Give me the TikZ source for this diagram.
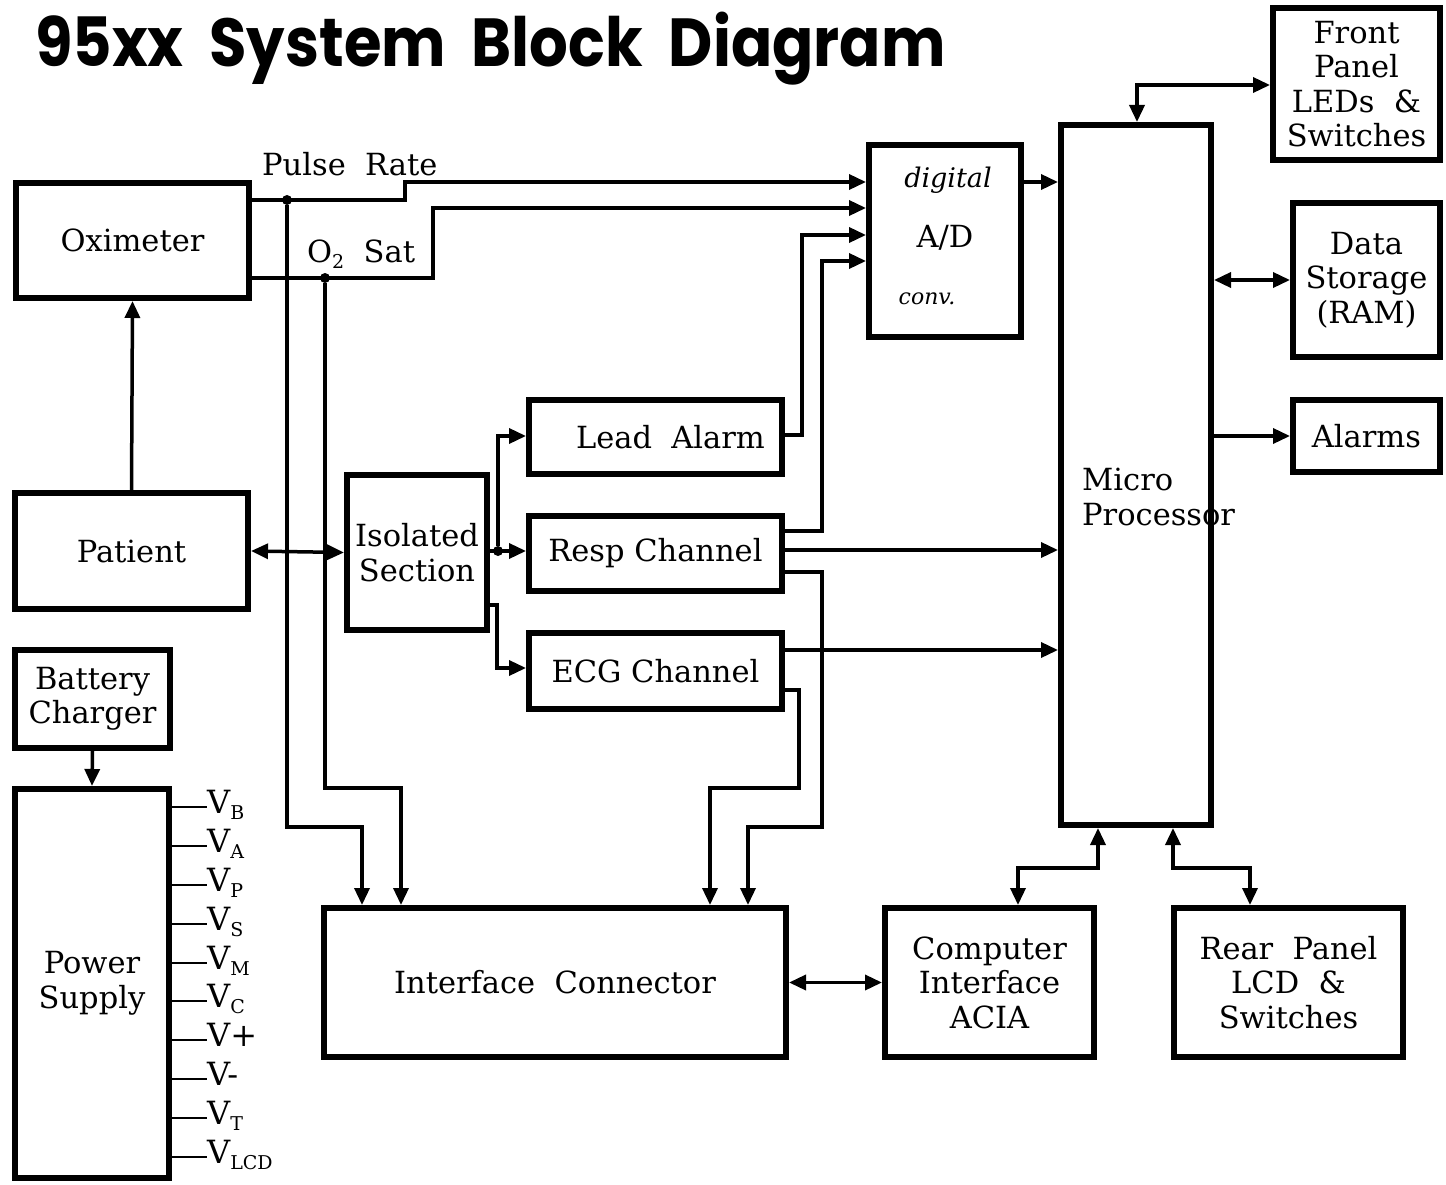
\documentclass[tikz,border=0pt]{standalone}
\usepackage{fontspec}
\setmainfont{DejaVu Serif}
\newfontfamily\titlefont{Poppins}
\usetikzlibrary{arrows.meta}
\newcommand\txtfont{\fontsize{30.5}{34.5}\selectfont}
\newcommand\vsub[1]{\raisebox{-6pt}{\fontsize{19}{19}\selectfont #1}}
\begin{document}
\begin{tikzpicture}[x=1pt,y=-1pt,
  blk/.style={draw, line width=6pt, inner sep=0pt, align=center, font=\txtfont},
  lbl/.style={inner sep=0pt, font=\txtfont},
  vlbl/.style={inner sep=0pt, anchor=base west, font=\fontsize{32}{32}\selectfont},
  conn/.style={line width=3.5pt},
  tip/.style={-{Triangle[length=17pt,width=15pt]}},
  dtip/.style={{Triangle[length=17pt,width=15pt]}-{Triangle[length=17pt,width=15pt]}},
  jdot/.style={circle, fill, inner sep=0pt, minimum size=10pt}]
\useasboundingbox (0,0) rectangle (1446,1185);

% title
\node[anchor=base west, inner sep=0pt, font=\titlefont\bfseries\fontsize{68}{68}\selectfont] (title) at (35,67) {\scalebox{0.895}[1]{95xx\ \ System\ \ Block\ \ Diagram}};

% blocks
\node[blk, minimum width=233pt, minimum height=115pt] (ox) at (132.5,240.5) {Oximeter};
\node[blk, minimum width=233pt, minimum height=116pt] (pt) at (131.5,551) {Patient};
\node[blk, minimum width=155pt, minimum height=98pt] (bc) at (92.5,699) {Battery\\Charger};
\node[blk, minimum width=154pt, minimum height=389pt] (ps) at (92,983.5) {Power\\Supply};
\node[blk, minimum width=140pt, minimum height=155pt] (is) at (417,552.5) {Isolated\\Section};
\node[blk, minimum width=253pt, minimum height=74pt] (la) at (655.5,437) {\hspace*{30pt}Lead\ \ Alarm};
\node[blk, minimum width=253pt, minimum height=75pt] (rc) at (655.5,553.5) {Resp Channel};
\node[blk, minimum width=253pt, minimum height=76pt] (ec) at (655.5,671) {ECG Channel};
\node[blk, minimum width=152pt, minimum height=192pt] (ad) at (945,241) {};
\node[lbl] (adtxt) at (945,238) {A/D};
\node[blk, minimum width=150pt, minimum height=700pt] (mp) at (1136,475) {};
\node[lbl, anchor=north west, align=left] (mptxt) at (1082,468) {Micro\\Processor};
\node[blk, minimum width=167pt, minimum height=152pt] (fp) at (1356.5,84) {Front\\Panel\\LEDs\ \ \&\\Switches};
\node[blk, minimum width=147pt, minimum height=154pt] (ds) at (1366.5,280) {Data\\Storage\\(RAM)};
\node[blk, minimum width=147pt, minimum height=72pt] (al) at (1366.5,436) {Alarms};
\node[blk, minimum width=462pt, minimum height=149pt] (ic) at (555,982.5) {Interface\ \ Connector};
\node[blk, minimum width=209pt, minimum height=149pt] (ci) at (989.5,982.5) {Computer\\Interface\\ACIA};
\node[blk, minimum width=229pt, minimum height=149pt] (rp) at (1288.5,982.5) {Rear\ \ Panel\\LCD\ \ \&\\Switches};

% handwritten notes in A/D
\node[lbl, font=\itshape\fontsize{27}{27}\selectfont] (dig) at (948,180) {digital};
\node[lbl, font=\itshape\fontsize{22}{22}\selectfont] (cnv) at (927,299) {conv.};

% signal labels
\node[lbl, anchor=base west] (prl) at (262,176) {Pulse\ \ Rate};
\node[lbl, anchor=base west] (o2l) at (307,262) {O\vsub{2}\ \ Sat};

% junction dots
\node[jdot] (j1) at (287,200) {};
\node[jdot] (j2) at (325,278) {};
\node[jdot] (j3) at (498,551) {};

% oximeter outputs
\draw[conn,tip] (ox.east |- j1) -- (405,200) -- (405,182) -- (ad.west |- 0,182);
\draw[conn,tip] (ox.east |- j2) -- (433,278) -- (433,208) -- (ad.west |- 0,208);
\draw[conn,tip] (j1) -- (287,827) -- (362,827) -- (ic.north -| 362,0);
\draw[conn,tip] (j2) -- (325,788) -- (401,788) -- (ic.north -| 401,0);

% patient
\draw[conn,tip] (pt.north) -- (ox.south);
\draw[conn,dtip] (pt.east) -- (is.west);
\draw[conn,tip] (bc.south) -- (ps.north);

% isolated section outputs
\draw[conn,tip] (is.east |- j3) -- (rc.west |- j3);
\draw[conn,tip] (j3) -- (498,436) -- (la.west |- 0,436);
\draw[conn,tip] (is.east |- 0,605) -- (497,605) -- (497,668) -- (ec.west |- 0,668);

% channel outputs
\draw[conn,tip] (la.east |- 0,435) -- (802,435) -- (802,235) -- (ad.west |- 0,235);
\draw[conn,tip] (rc.east |- 0,531) -- (822,531) -- (822,261) -- (ad.west |- 0,261);
\draw[conn,tip] (rc.east |- 0,550) -- (mp.west |- 0,550);
\draw[conn,tip] (rc.east |- 0,572) -- (822,572) -- (822,827) -- (748,827) -- (ic.north -| 748,0);
\draw[conn,tip] (ec.east |- 0,650) -- (mp.west |- 0,650);
\draw[conn,tip] (ec.east |- 0,690) -- (799,690) -- (799,788) -- (710,788) -- (ic.north -| 710,0);

% micro processor links
\draw[conn,tip] (ad.east |- 0,182) -- (mp.west |- 0,182);
\draw[conn,dtip] (mp.north -| 1137,0) -- (1137,85) -- (fp.west |- 0,85);
\draw[conn,dtip] (mp.east |- ds.west) -- (ds.west);
\draw[conn,tip] (mp.east |- al.west) -- (al.west);
\draw[conn,dtip] (mp.south -| 1098,0) -- (1098,868) -- (1018,868) -- (ci.north -| 1018,0);
\draw[conn,dtip] (mp.south -| 1173,0) -- (1173,868) -- (1250,868) -- (rp.north -| 1250,0);
\draw[conn,dtip] (ic.east) -- (ci.west);

% power supply rails
\node[vlbl] (v1) at (207,813) {V\vsub{B}};
\node[vlbl] (v2) at (207,852) {V\vsub{A}};
\node[vlbl] (v3) at (207,891) {V\vsub{P}};
\node[vlbl] (v4) at (207,930) {V\vsub{S}};
\node[vlbl] (v5) at (207,969) {V\vsub{M}};
\node[vlbl] (v6) at (207,1007) {V\vsub{C}};
\node[vlbl] (v7) at (207,1046) {V+};
\node[vlbl] (v8) at (207,1085) {V-};
\node[vlbl] (v9) at (207,1124) {V\vsub{T}};
\node[vlbl] (v10) at (207,1163) {V\vsub{LCD}};
\foreach \v in {v1,v2,v3,v4,v5,v6,v7,v8,v9,v10}
  \draw[line width=2.5pt] (ps.east |- \v.base west) ++(0,-6) -- ++(35,0);
\end{tikzpicture}
\end{document}
